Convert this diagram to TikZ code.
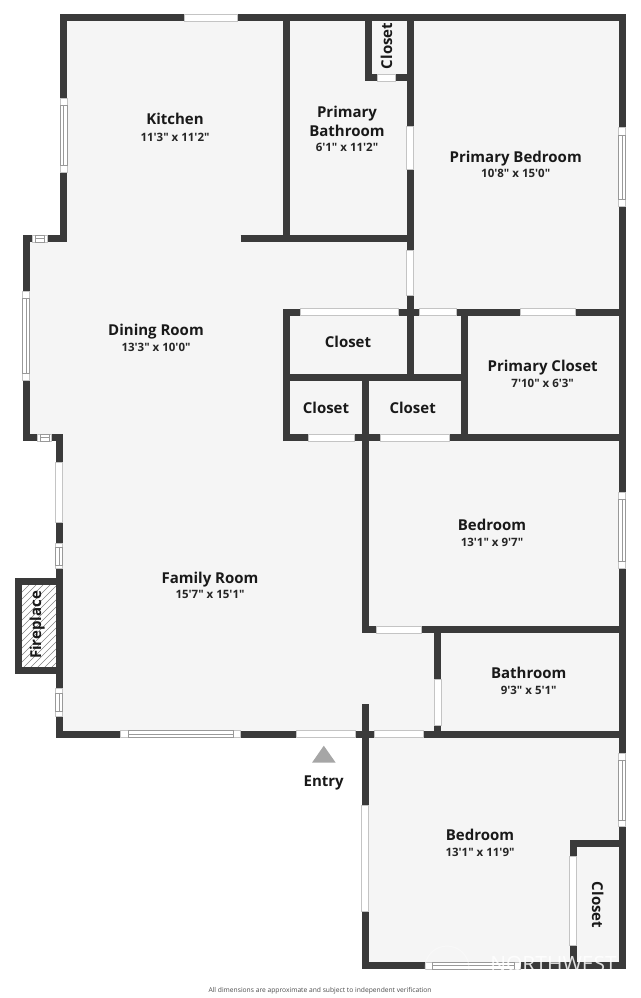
\documentclass[tikz,border=0pt]{standalone}
\usepackage{fontspec}
\usepackage{xcolor}
\usetikzlibrary{positioning}
\newfontfamily\planfont{Open Sans}
\definecolor{wallcolor}{HTML}{3A3A3A}
\definecolor{floorcolor}{HTML}{F5F5F5}
\definecolor{edgecolor}{HTML}{C4C4C4}
\tikzset{
    wall/.style={draw=wallcolor, line width=7pt, line join=miter},
    opening/.style={fill=white, draw=edgecolor, line width=0.5pt},
    pane/.style={draw=black!40, line width=0.5pt},
    roomname/.style={font=\planfont\bfseries\fontsize{15}{17}\selectfont, text=black!90, inner sep=0pt, text height=11pt, text depth=0pt},
    roomsize/.style={font=\planfont\bfseries\fontsize{11.5}{13}\selectfont, text=black!85, inner sep=0pt, text height=8.5pt, text depth=0pt}
}
\begin{document}
\begin{tikzpicture}[x=1pt, y=-1pt]
    \useasboundingbox (0,0) rectangle (640,998);

    % Floor
    \fill[floorcolor] (63.5,18) -- (622,18) -- (622,965.7) -- (365,965.7) -- (365,734) -- (59,734) -- (59,437.7) -- (26,437.7) -- (26,238.5) -- (63.5,238.5) -- cycle;

    % Fireplace hatch
    \begin{scope}
        \clip (21,585) rectangle (56,667);
        \foreach \i in {0,...,20} {
            \draw[black!50, line width=0.4pt] (10,{590+\i*7}) -- (70,{530+\i*7});
        }
    \end{scope}

    % Outer walls
    \draw[wall] (63.5,18) -- (622,18) -- (622,965.7) -- (365,965.7) -- (365,734) -- (59,734) -- (59,437.7) -- (26,437.7) -- (26,238.5) -- (63.5,238.5) -- cycle;
    \draw[wall] (59,581.5) -- (18,581.5) -- (18,670.5) -- (59,670.5);

    % Inner walls
    \draw[wall] (286.7,14) -- (286.7,238.5);
    \draw[wall] (240.7,238.5) -- (413,238.5);
    \draw[wall] (410,14) -- (410,381);
    \draw[wall] (368,14) -- (368,77.5) -- (410,77.5);
    \draw[wall] (286.7,441) -- (286.7,312) -- (622,312);
    \draw[wall] (464,312) -- (464,441);
    \draw[wall] (283,377.5) -- (467,377.5);
    \draw[wall] (283,437.7) -- (622,437.7);
    \draw[wall] (365,377) -- (365,629.3) -- (622,629.3);
    \draw[wall] (437.8,629) -- (437.8,734);
    \draw[wall] (365,704) -- (365,734) -- (622,734);
    \draw[wall] (573,969) -- (573,843.5) -- (622,843.5);

    % Openings, horizontal walls
    \foreach \xa/\xb/\yc in {184.7/237/18, 377.3/395.7/77.5, 300/398.5/312, 419.3/456/312, 520/575.7/312, 308/354.7/437.7, 380.7/449.7/437.7, 376/421.7/629.3, 296.7/355/734, 374/423.3/734} {
        \draw[opening] (\xa,\yc-3.5) rectangle (\xb,\yc+3.5);
    }

    % Openings, vertical walls
    \foreach \ya/\yb/\xc in {126/169.3/410, 250.7/295.7/410, 462.7/522.3/59, 679.3/725/437.8, 805/911.3/365, 856/945/573} {
        \draw[opening] (\xc-3.5,\ya) rectangle (\xc+3.5,\yb);
    }

    % Windows, horizontal walls
    \foreach \xa/\xb/\xi/\xj/\yc in {120.7/240.7/128/233.5/734, 32/47.7/35/44.7/238.5, 37.3/51.7/40/49/437.7, 425/520/432/514/965.7} {
        \draw[opening] (\xa,\yc-3.5) rectangle (\xb,\yc+3.5);
        \draw[pane] (\xi,\yc-3.5) rectangle (\xj,\yc+3.5);
        \draw[pane] (\xi,\yc) -- (\xj,\yc);
    }

    % Windows, vertical walls
    \foreach \ya/\yb/\yi/\yj/\xc in {98/172/105/165/63.5, 291.7/380.3/298/373/26, 543.3/568.7/547/565/59, 688.3/716/693/711/59, 127.7/206/135/199/622, 492.3/568.3/499.7/561/622, 753/826.7/760/820/622} {
        \draw[opening] (\xc-3.5,\ya) rectangle (\xc+3.5,\yb);
        \draw[pane] (\xc-3.5,\yi) rectangle (\xc+3.5,\yj);
        \draw[pane] (\xc,\yi) -- (\xc,\yj);
    }

    % Watermark
    \node[draw=white, opacity=0.35, line width=1pt, circle, minimum size=44pt] (logo) at (447,968) {};
    \node[font=\planfont\fontsize{21}{21}\selectfont, text=white, opacity=0.85, anchor=base east, inner sep=0pt] (mark) at (617,971) {NORTHWEST};

    % Room labels
    \node[roomname] (kitchen) at (175,119) {Kitchen};
    \node[roomsize] (kitchensize) at (175,137) {11'3" x 11'2"};
    \node[roomname] (pbatha) at (347,112) {Primary};
    \node[roomname] (pbathb) at (347,130.5) {Bathroom};
    \node[roomsize] (pbathsize) at (347,147.5) {6'1" x 11'2"};
    \node[roomname] (pbed) at (515.7,157) {Primary Bedroom};
    \node[roomsize] (pbedsize) at (515.7,173.5) {10'8" x 15'0"};
    \node[roomname, rotate=90] (closeta) at (386.5,46) {Closet};
    \node[roomname] (dining) at (156,330) {Dining Room};
    \node[roomsize] (diningsize) at (156,347) {13'3" x 10'0"};
    \node[roomname] (closetb) at (348,342) {Closet};
    \node[roomname] (pcloset) at (542.7,366) {Primary Closet};
    \node[roomsize] (pclosetsize) at (542.7,383.5) {7'10" x 6'3"};
    \node[roomname] (closetc) at (326,408) {Closet};
    \node[roomname] (closetd) at (412.7,408) {Closet};
    \node[roomname] (bedb) at (492,525) {Bedroom};
    \node[roomsize] (bedbsize) at (492,542) {13'1" x 9'7"};
    \node[roomname] (family) at (210,577.5) {Family Room};
    \node[roomsize] (familysize) at (210,594.5) {15'7" x 15'1"};
    \node[roomname, rotate=90] (fireplace) at (35.5,625) {Fireplace};
    \node[roomname] (bath) at (528.7,673) {Bathroom};
    \node[roomsize] (bathsize) at (528.7,690) {9'3" x 5'1"};
    \node[roomname] (entry) at (323.7,781) {Entry};
    \node[roomname] (bedc) at (480,835) {Bedroom};
    \node[roomsize] (bedcsize) at (480,852) {13'1" x 11'9"};
    \node[roomname, rotate=-90] (closete) at (597.5,905) {Closet};

    % Entry marker
    \fill[black!35] (312,762.7) -- (323.8,745.7) -- (335.7,762.7) -- cycle;

    % Footnote
    \node[font=\planfont\fontsize{6.7}{8}\selectfont, text=black!70, inner sep=0pt] (note) at (320,990.7) {All dimensions are approximate and subject to independent verification};
\end{tikzpicture}
\end{document}
